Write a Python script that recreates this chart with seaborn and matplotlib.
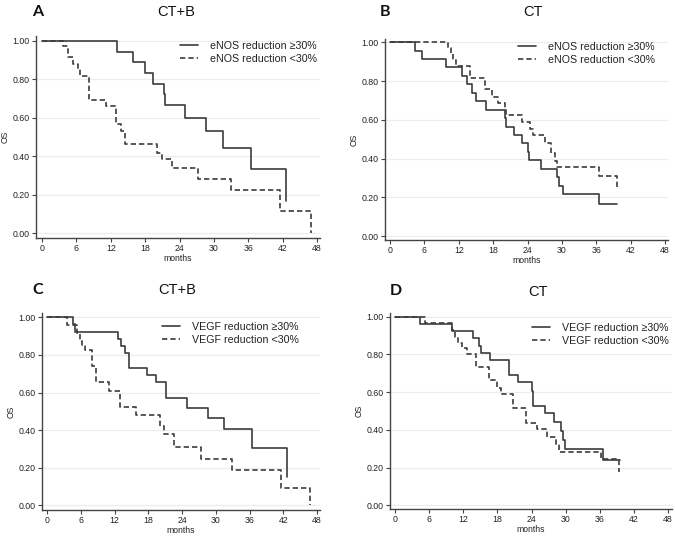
import matplotlib
matplotlib.use("Agg")
import matplotlib.pyplot as plt
import seaborn as sns
import pandas as pd
import numpy as np

sns.set_theme(style="white")
plt.rcParams['font.family'] = ['Liberation Sans', 'DejaVu Sans']

# ---------------- data ----------------
months_ticks = [0, 6, 12, 18, 24, 30, 36, 42, 48]
os_ticks = [0.0, 0.2, 0.4, 0.6, 0.8, 1.0]

# Panel A: CT+B, eNOS
A_hi_t = [0, 13.1, 15.8, 17.9, 19.3, 21.2, 21.4, 25.0, 28.6, 31.5, 36.5, 42.6]
A_hi_s = [1.0, 0.944, 0.889, 0.833, 0.778, 0.722, 0.667, 0.600, 0.533, 0.444, 0.333, 0.167]
A_lo_t = [0, 3.7, 4.6, 5.4, 6.3, 6.6, 8.2, 11.1, 12.9, 13.8, 14.5, 20.0, 20.9, 22.7, 27.3, 32.9, 41.6, 46.9]
A_lo_s = [1.0, 0.972, 0.915, 0.88, 0.853, 0.817, 0.694, 0.661, 0.567, 0.531, 0.464, 0.418, 0.387, 0.337, 0.280, 0.226, 0.113, 0.0]

# Panel B: CT, eNOS
B_hi_t = [0, 4.4, 5.5, 9.7, 12.5, 13.5, 14.3, 15.0, 16.7, 20.0, 20.3, 21.6, 23.0, 24.0, 24.2, 26.4, 29.1, 29.4, 30.1, 36.5, 39.6]
B_hi_s = [1.0, 0.957, 0.913, 0.870, 0.826, 0.783, 0.739, 0.696, 0.652, 0.609, 0.565, 0.522, 0.478, 0.435, 0.391, 0.348, 0.304, 0.261, 0.217, 0.167, 0.167]
B_lo_t = [0, 10.1, 10.6, 11.0, 11.5, 14.0, 16.6, 17.8, 18.9, 20.0, 20.3, 23.0, 24.4, 25.0, 27.1, 28.1, 28.8, 29.1, 36.4, 39.6]
B_lo_s = [1.0, 0.97, 0.94, 0.91, 0.88, 0.817, 0.757, 0.72, 0.688, 0.655, 0.623, 0.589, 0.555, 0.52, 0.482, 0.43, 0.387, 0.355, 0.31, 0.25]

# Panel C: CT+B, VEGF
C_hi_t = [0, 4.6, 5.0, 12.6, 13.2, 13.8, 14.6, 17.8, 19.3, 21.2, 24.9, 28.6, 31.4, 36.4, 42.7]
C_hi_s = [1.0, 0.962, 0.923, 0.885, 0.846, 0.808, 0.731, 0.692, 0.654, 0.571, 0.519, 0.467, 0.405, 0.304, 0.152]
C_lo_t = [0, 3.6, 5.3, 5.9, 6.3, 6.8, 8.0, 8.7, 11.1, 13.0, 15.8, 20.0, 20.7, 22.6, 27.3, 32.9, 41.5, 46.8]
C_lo_s = [1.0, 0.958, 0.917, 0.875, 0.85, 0.826, 0.74, 0.654, 0.607, 0.523, 0.48, 0.423, 0.379, 0.312, 0.244, 0.19, 0.09, 0.0]

# Panel D: CT, VEGF
D_hi_t = [0, 4.4, 10.0, 13.8, 14.7, 15.1, 16.7, 20.1, 21.7, 24.0, 24.3, 26.3, 28.0, 29.1, 29.5, 29.9, 36.5, 39.6]
D_hi_s = [1.0, 0.962, 0.923, 0.885, 0.846, 0.808, 0.769, 0.692, 0.654, 0.606, 0.529, 0.49, 0.44, 0.392, 0.347, 0.30, 0.238, 0.238]
D_lo_t = [0, 5.2, 10.1, 10.5, 11.0, 11.7, 12.6, 14.3, 16.5, 18.0, 18.6, 20.8, 23.0, 24.9, 26.8, 28.3, 28.9, 36.3, 39.4]
D_lo_s = [1.0, 0.965, 0.93, 0.895, 0.86, 0.833, 0.80, 0.733, 0.663, 0.623, 0.589, 0.515, 0.434, 0.405, 0.364, 0.326, 0.282, 0.247, 0.177]

panels = [
    dict(letter="A", title="CT+B", marker="eNOS", hi=(A_hi_t, A_hi_s), lo=(A_lo_t, A_lo_s)),
    dict(letter="B", title="CT", marker="eNOS", hi=(B_hi_t, B_hi_s), lo=(B_lo_t, B_lo_s)),
    dict(letter="C", title="CT+B", marker="VEGF", hi=(C_hi_t, C_hi_s), lo=(C_lo_t, C_lo_s)),
    dict(letter="D", title="CT", marker="VEGF", hi=(D_hi_t, D_hi_s), lo=(D_lo_t, D_lo_s)),
]

# ---------------- layout ----------------
W, H = 675, 536
fig = plt.figure(figsize=(W / 100, H / 100), dpi=100)

# axes boxes in pixels: (left, top, right, bottom), xlim, ylim
boxes = [
    ((36, 36, 320, 238), (-1.05, 48.5), (-0.026, 1.026)),
    ((385, 39, 668, 240), (-0.87, 48.5), (-0.02, 1.017)),
    ((42, 313, 320, 510), (-0.89, 48.5), (-0.025, 1.023)),
    ((390, 313, 672, 509), (-0.88, 48.7), (-0.02, 1.02)),
]
letter_pos = [(32, 12), (380, 12), (32, 290), (390, 291)]
title_pos = [(176, 12), (533, 12), (177, 290), (538, 292)]
legend_pos = [(180, 41), (518, 42), (162, 322), (532, 323)]
xlabel_pads = [0.6, 0.6, 0.2, 0.2]

line_col = "#3c3c3c"
grid_col = "#e9eff1"

for p, (box, xl, yl), lp, tp, lg, xpad in zip(panels, boxes, letter_pos, title_pos,
                                              legend_pos, xlabel_pads):
    l, t, r, b = box
    ax = fig.add_axes([l / W, 1 - b / H, (r - l) / W, (b - t) / H])
    lab_hi = f"{p['marker']} reduction \u226530%"
    lab_lo = f"{p['marker']} reduction <30%"
    df = pd.concat([
        pd.DataFrame({"months": p["hi"][0], "OS": p["hi"][1], "group": lab_hi}),
        pd.DataFrame({"months": p["lo"][0], "OS": p["lo"][1], "group": lab_lo}),
    ], ignore_index=True)
    sns.lineplot(data=df, x="months", y="OS", style="group",
                 style_order=[lab_hi, lab_lo],
                 dashes={lab_hi: "", lab_lo: (3.2, 1.8)},
                 drawstyle="steps-post", estimator=None, sort=False,
                 color=line_col, linewidth=1.2, ax=ax)
    ax.set_xlim(*xl)
    ax.set_ylim(*yl)
    ax.set_xticks(months_ticks)
    ax.set_yticks(os_ticks)
    ax.set_yticklabels([f"{v:.2f}" for v in os_ticks])
    for y in os_ticks:
        ax.axhline(y, color=grid_col, lw=0.9, zorder=0)
    for s in ["top", "right"]:
        ax.spines[s].set_visible(False)
    for s in ["left", "bottom"]:
        ax.spines[s].set_color("#444444")
        ax.spines[s].set_linewidth(1.0)
    ax.tick_params(axis="both", which="major", length=3, width=0.8, color="#444444",
                   labelsize=6.3, labelcolor="#222222", pad=1.5, direction="out",
                   bottom=True, left=True)
    ax.set_xlabel("months", fontsize=6.2, labelpad=xpad, color="#222222")
    ax.set_ylabel("OS", fontsize=6.2, labelpad=2, color="#222222")
    leg = ax.legend(loc="upper left", bbox_to_anchor=(lg[0] / W, 1 - lg[1] / H),
                    bbox_transform=fig.transFigure, frameon=False, borderpad=0,
                    borderaxespad=0, fontsize=7.7, handlelength=1.7,
                    handletextpad=1.1, labelspacing=0.25, title=None)
    for h in leg.get_lines():
        h.set_linewidth(1.2)
    for txt in leg.get_texts():
        txt.set_color("#222222")

    fig.text(lp[0] / W, 1 - lp[1] / H, p["letter"], fontsize=11.5, fontweight="bold",
             family=["Lato", "DejaVu Sans"], ha="left", va="center", color="#111111")
    fig.text(tp[0] / W, 1 - tp[1] / H, p["title"], fontsize=10.5, ha="center",
             va="center", color="#111111")

fig.savefig("out.png", dpi=100)
